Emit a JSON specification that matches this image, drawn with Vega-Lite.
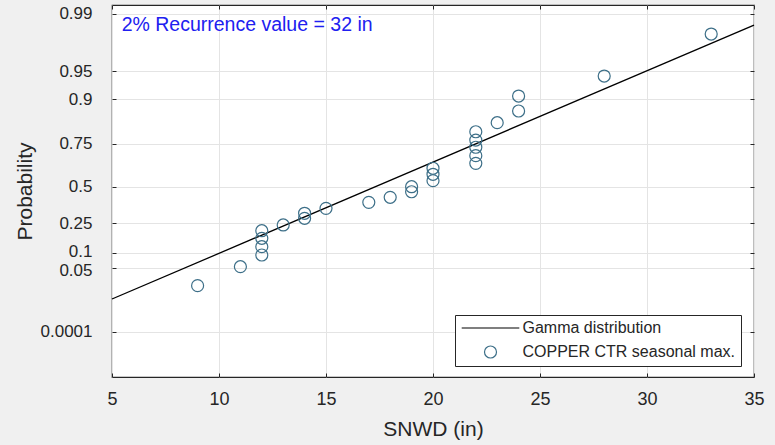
{
  "$schema": "https://vega.github.io/schema/vega-lite/v6.json",
  "width": 642,
  "height": 372,
  "autosize": {"type": "none"},
  "padding": {"left": 112, "top": 5, "right": 21, "bottom": 68},
  "background": "#f0f0f0",
  "config": {
    "font": "Liberation Sans",
    "view": {"fill": "white", "stroke": "#262626", "strokeWidth": 1.2},
    "axis": {
      "labelFont": "Liberation Sans",
      "titleFont": "Liberation Sans",
      "labelColor": "#262626",
      "titleColor": "#262626",
      "titleFontWeight": "normal",
      "tickColor": "#262626",
      "gridColor": "#e4e4e4",
      "gridWidth": 1,
      "domain": false
    },
    "legend": {
      "orient": "none", "legendX": 343, "legendY": 310, "title": null,
      "strokeColor": "#262626", "fillColor": "white", "padding": 5,
      "symbolOffset": 22.5, "labelOffset": 24, "labelFontSize": 16, "labelLimit": 400,
      "labelFont": "Liberation Sans", "labelColor": "#262626", "rowPadding": 7,
      "symbolStrokeWidth": 1.2, "symbolSize": 144, "symbolFillColor": "transparent",
      "symbolOpacity": 1
    }
  },
  "datasets": {
    "fit": [
      {"SNWD": 5, "q": 5},
      {"SNWD": 35, "q": 35}
    ],
    "obs": [
      {"SNWD": 9, "q": 6.46},
      {"SNWD": 11, "q": 8.54},
      {"SNWD": 12, "q": 9.82},
      {"SNWD": 12, "q": 10.73},
      {"SNWD": 12, "q": 11.65},
      {"SNWD": 12, "q": 12.48},
      {"SNWD": 13, "q": 13.11},
      {"SNWD": 14, "q": 13.84},
      {"SNWD": 14, "q": 14.39},
      {"SNWD": 15, "q": 14.93},
      {"SNWD": 17, "q": 15.59},
      {"SNWD": 18, "q": 16.14},
      {"SNWD": 19, "q": 16.75},
      {"SNWD": 19, "q": 17.3},
      {"SNWD": 20, "q": 17.96},
      {"SNWD": 20, "q": 18.66},
      {"SNWD": 20, "q": 19.32},
      {"SNWD": 22, "q": 19.86},
      {"SNWD": 22, "q": 20.7},
      {"SNWD": 22, "q": 21.62},
      {"SNWD": 22, "q": 22.41},
      {"SNWD": 22, "q": 23.32},
      {"SNWD": 23, "q": 24.31},
      {"SNWD": 24, "q": 25.59},
      {"SNWD": 24, "q": 27.23},
      {"SNWD": 28, "q": 29.42},
      {"SNWD": 33, "q": 34.02}
    ],
    "note": [
      {"SNWD": 5.45, "q": 34.96, "label": "2% Recurrence value = 32 in"}
    ]
  },
  "layer": [
    {
      "data": {"name": "fit"},
      "mark": {"type": "line", "strokeWidth": 1.3},
      "encoding": {
        "x": {
          "field": "SNWD", "type": "quantitative",
          "scale": {"domain": [5, 35], "nice": false, "zero": false},
          "axis": {
            "orient": "bottom", "title": "SNWD (in)", "values": [5, 10, 15, 20, 25, 30, 35],
            "grid": true, "tickSize": -4, "labelPadding": 17, "labelFontSize": 18,
            "titleFontSize": 21, "titlePadding": 10, "labelFlush": false
          }
        },
        "y": {
          "field": "q", "type": "quantitative",
          "scale": {"domain": [-3.54, 37.2], "nice": false, "zero": false},
          "axis": {
            "orient": "left", "title": "Probability",
            "values": [1.42, 8.43, 10.01, 13.29, 17.3, 22.03, 26.87, 29.97, 36.22],
            "labelExpr": "datum.value > 35 ? '0.99' : datum.value > 29 ? '0.95' : datum.value > 26 ? '0.9' : datum.value > 21 ? '0.75' : datum.value > 17 ? '0.5' : datum.value > 13 ? '0.25' : datum.value > 9.5 ? '0.1' : datum.value > 8 ? '0.05' : '0.0001'",
            "labelOffset": {"expr": "datum.value > 9.5 && datum.value < 10.5 ? -1.5 : datum.value > 8 && datum.value < 9 ? 2.5 : 0"},
            "grid": true, "tickSize": -4, "labelPadding": 24, "labelFontSize": 17,
            "titleFontSize": 21, "titlePadding": 5, "labelFlush": false, "labelOverlap": false
          }
        },
        "color": {
          "datum": "Gamma distribution",
          "type": "nominal",
          "scale": {
            "domain": ["Gamma distribution", "COPPER CTR seasonal max."],
            "range": ["#000000", "#3d6f88"]
          }
        }
      }
    },
    {
      "data": {"name": "obs"},
      "mark": {"type": "point", "filled": false, "size": 144, "strokeWidth": 1.2, "opacity": 1},
      "encoding": {
        "x": {
          "field": "SNWD", "type": "quantitative",
          "axis": {"orient": "top", "values": [5, 10, 15, 20, 25, 30, 35], "labels": false, "grid": false, "tickSize": -4, "title": null}
        },
        "y": {
          "field": "q", "type": "quantitative",
          "axis": {"orient": "right", "values": [1.42, 8.43, 10.01, 13.29, 17.3, 22.03, 26.87, 29.97, 36.22], "labels": false, "grid": false, "tickSize": -4, "title": null}
        },
        "color": {
          "datum": "COPPER CTR seasonal max.",
          "type": "nominal"
        },
        "shape": {
          "datum": "COPPER CTR seasonal max.",
          "type": "nominal",
          "scale": {
            "domain": ["Gamma distribution", "COPPER CTR seasonal max."],
            "range": ["M-4.8,0L4.8,0", "M-1,0A1,1,0,1,1,1,0A1,1,0,1,1,-1,0Z"]
          }
        }
      }
    },
    {
      "data": {"name": "note"},
      "mark": {"type": "text", "align": "left", "baseline": "middle", "fontSize": 19.5, "color": "#2020f0", "font": "Liberation Sans"},
      "encoding": {
        "x": {"field": "SNWD", "type": "quantitative", "axis": null},
        "y": {"field": "q", "type": "quantitative", "axis": null},
        "text": {"field": "label"}
      }
    }
  ],
  "resolve": {"axis": {"x": "independent", "y": "independent"}}
}
